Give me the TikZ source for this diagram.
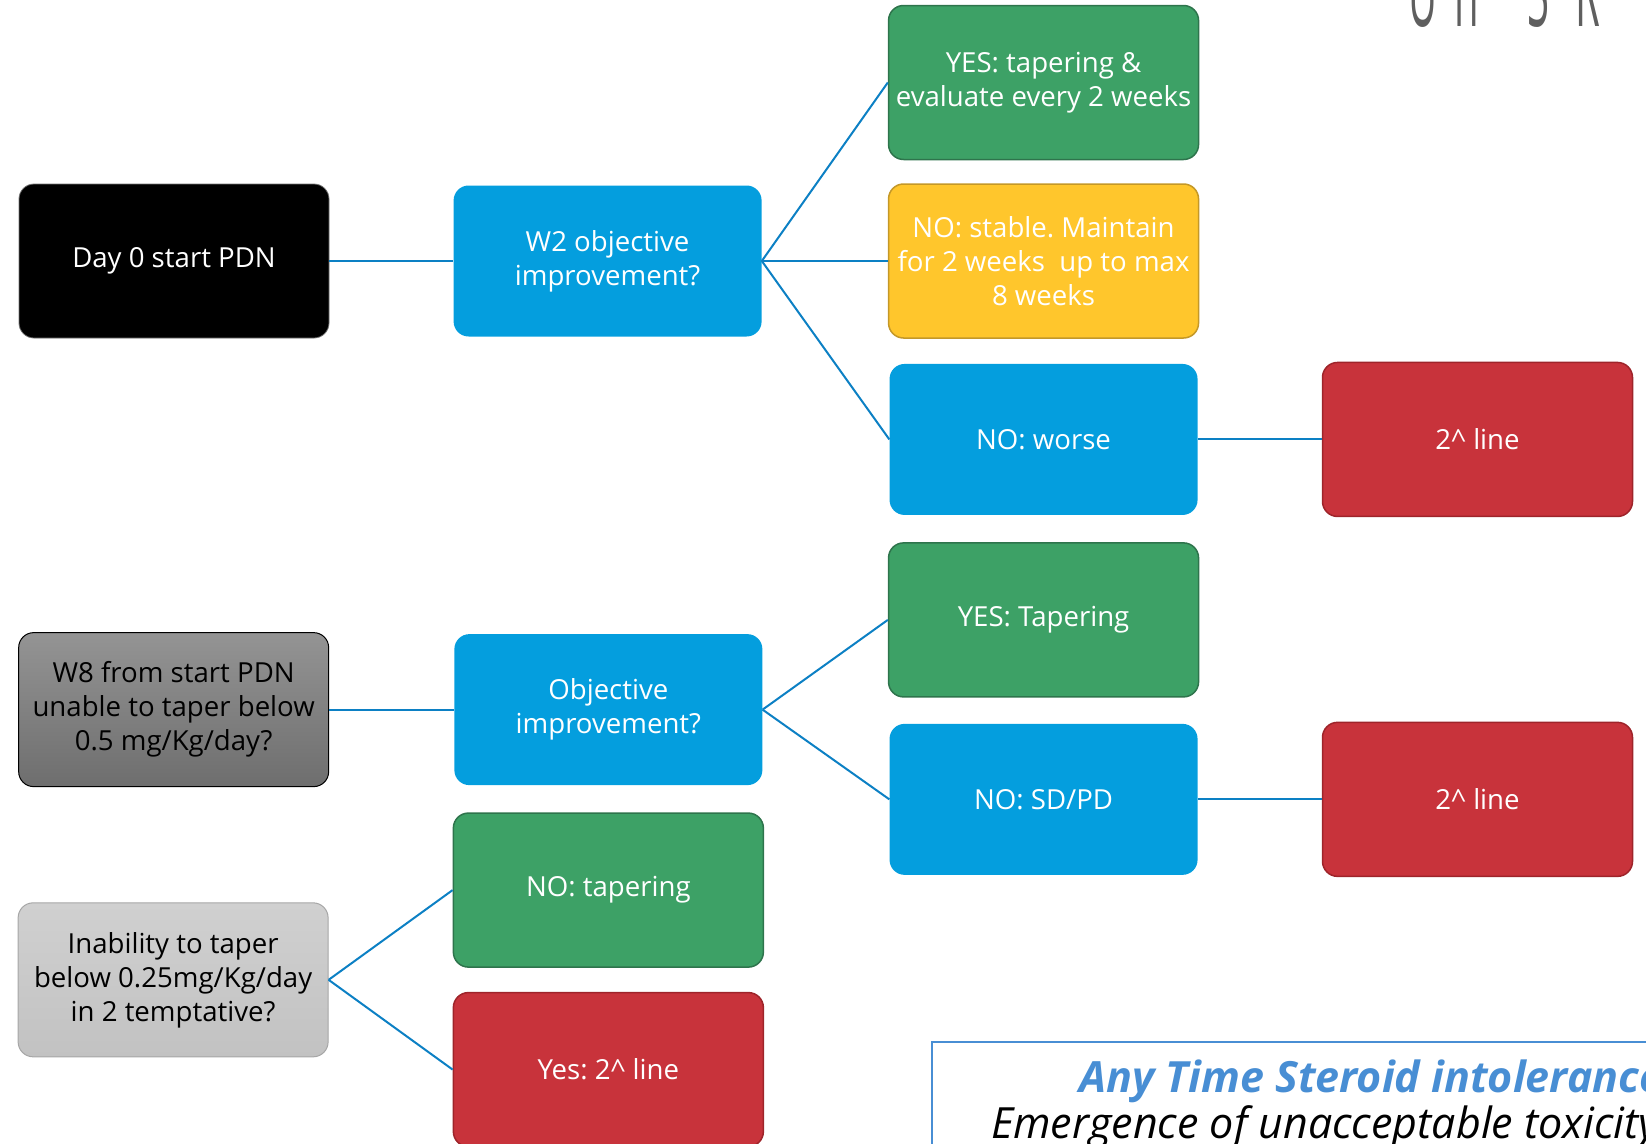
\documentclass[tikz,border=0pt]{standalone}
\usepackage{fontspec}
\setmainfont{Open Sans}
\frenchspacing
\usetikzlibrary{positioning,calc}
\definecolor{boxblue}{RGB}{4,158,222}
\definecolor{boxgreen}{RGB}{61,161,102}
\definecolor{greenedge}{RGB}{46,116,76}
\definecolor{boxyellow}{RGB}{255,198,44}
\definecolor{yellowedge}{RGB}{196,152,40}
\definecolor{boxred}{RGB}{200,51,59}
\definecolor{rededge}{RGB}{158,36,42}
\definecolor{weektop}{RGB}{148,148,148}
\definecolor{weekbot}{RGB}{110,110,110}
\definecolor{tapertop}{RGB}{208,208,208}
\definecolor{taperbot}{RGB}{194,194,194}
\definecolor{linkblue}{RGB}{12,128,196}
\definecolor{noteblue}{RGB}{72,142,212}
\definecolor{logogray}{RGB}{95,95,95}

\begin{document}
\begin{tikzpicture}[x=1pt, y=1pt,
      node distance=24pt,
      box/.style={rectangle, rounded corners=15pt, align=center, minimum width=310pt, minimum height=154pt, inner sep=2pt, text=white, font=\fontsize{27.6pt}{34pt}\selectfont},
      startbox/.style={box, fill=black, draw=black!55, line width=0.8pt},
      askbox/.style={box, fill=boxblue, minimum width=308pt, minimum height=151pt},
      yesbox/.style={box, fill=boxgreen, draw=greenedge, line width=1.5pt},
      waitbox/.style={box, fill=boxyellow, draw=yellowedge, line width=1.5pt},
      stopbox/.style={box, fill=boxred, draw=rededge, line width=1.5pt},
      weekbox/.style={box, text=black, draw=black, line width=1pt, top color=weektop, bottom color=weekbot},
      taperbox/.style={box, text=black, draw=black!35, line width=1pt, top color=tapertop, bottom color=taperbot},
      notebox/.style={rectangle, draw=noteblue, line width=2pt, fill=white, minimum width=900pt, minimum height=200pt},
      link/.style={draw=linkblue, line width=2pt}
  ]
      \useasboundingbox (0,0) rectangle (1646,-1143);
      \clip (0,0) rectangle (1646,-1143);

      % first branch: day 0
      \node (day0) [startbox] at (174,-261) {Day 0 start PDN};
      \node (w2) [askbox, right=124pt of day0] {W2 objective\\improvement?};
      \node (stable) [waitbox, right=126pt of w2] {NO: stable. Maintain\\for 2 weeks\ \ up to max\\8 weeks};
      \node (yes1) [yesbox, above=23pt of stable] {YES: tapering \&\\evaluate every 2 weeks};
      \node (worse) [askbox, below=25pt of stable] {NO: worse};
      \node (red1) [stopbox, right=124pt of worse] {2\textasciicircum{} line};

      % second branch: week 8
      \node (yes2) [yesbox, below=27pt of worse] {YES: Tapering};
      \node (sdpd) [askbox, below=26pt of yes2] {NO: SD/PD};
      \node (red2) [stopbox, right=124pt of sdpd] {2\textasciicircum{} line};
      \coordinate (mid2) at ($(yes2.west)!0.5!(sdpd.west)$);
      \node (obj) [askbox, left=126pt of mid2] {Objective\\improvement?};
      \node (w8) [weekbox, left=125pt of obj] {W8 from start PDN\\unable to taper below\\0.5 mg/Kg/day?};

      % third branch: tapering
      \node (notap) [yesbox, below=27pt of obj] {NO: tapering};
      \node (yes3) [stopbox, below=24pt of notap] {Yes: 2\textasciicircum{} line};
      \coordinate (mid3) at ($(notap.west)!0.5!(yes3.west)$);
      \node (inab) [taperbox, left=124pt of mid3] {Inability to taper\\below 0.25mg/Kg/day\\in 2 temptative?};

      % note box and logo, cut by the page edge
      \node (note) [notebox, anchor=north west] at (931,-1041) {};
      \node (notetitle) [anchor=base west, inner sep=0pt, text=noteblue, font=\fontsize{43pt}{50pt}\selectfont\bfseries\itshape] at (1079,-1092) {Any Time Steroid intolerance};
      \node (notetext) [anchor=base west, inner sep=0pt, font=\fontsize{43pt}{50pt}\selectfont\itshape] at (991,-1138) {Emergence of unacceptable toxicity};
      \node (logo) [anchor=base west, inner sep=0pt, text=logogray] at (1408,-27) {\scalebox{0.4}[1]{\fontsize{100pt}{100pt}\selectfont U\hspace{42pt}n\hspace{123pt}S\hspace{64pt}R}};

      % connections
      \path [link] (day0.east) -- (w2.west);
      \path [link] (w2.east) -- (yes1.west);
      \path [link] (w2.east) -- (stable.west);
      \path [link] (w2.east) -- (worse.west);
      \path [link] (worse.east) -- (red1.west);
      \path [link] (w8.east) -- (obj.west);
      \path [link] (obj.east) -- (yes2.west);
      \path [link] (obj.east) -- (sdpd.west);
      \path [link] (sdpd.east) -- (red2.west);
      \path [link] (inab.east) -- (notap.west);
      \path [link] (inab.east) -- (yes3.west);
  \end{tikzpicture}
\end{document}
